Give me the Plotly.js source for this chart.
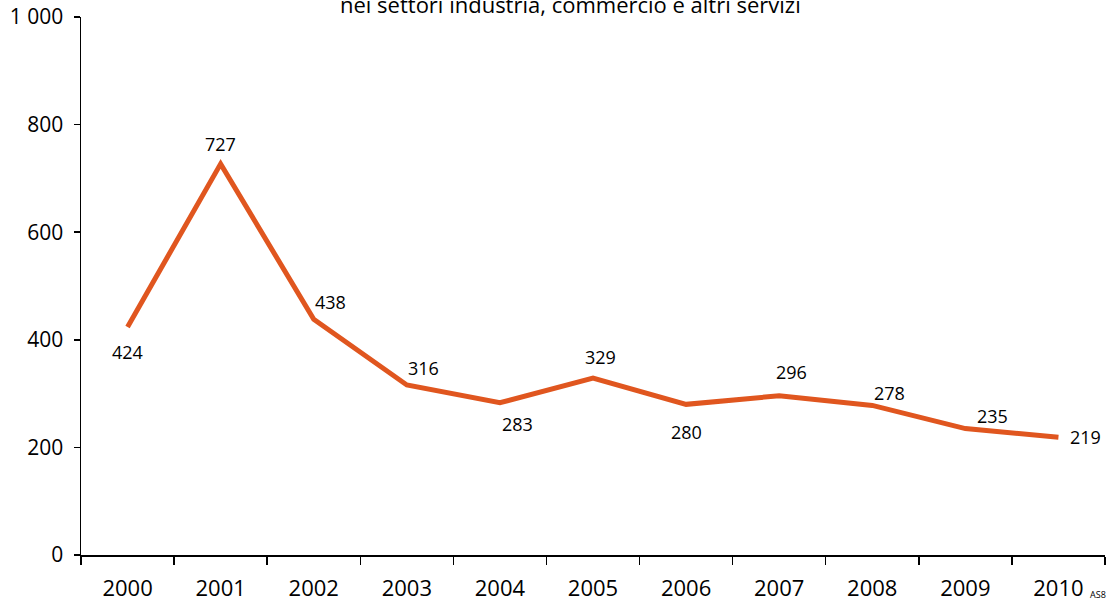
<!DOCTYPE html>
<html>
<head>
<meta charset="utf-8">
<script src="https://cdn.plot.ly/plotly-3.0.1.min.js"></script>
<style>html,body{margin:0;padding:0;background:#fff;}#chart{width:1120px;height:604px;}</style>
</head>
<body>
<div id="chart"></div>
<script>
const years = ['2000','2001','2002','2003','2004','2005','2006','2007','2008','2009','2010'];
const values = [424, 727, 438, 316, 283, 329, 280, 296, 278, 235, 219];
// label offsets from each point (pixels), a style choice
const labelDx = [0, 0, 17, 17, 18, 7, 0, 12, 17, 27, 27];
const labelDy = [-25, 20, 17, 17, -21, 21, -28, 24, 12, 13, 0];
const yTickVals = [0, 200, 400, 600, 800, 1000];
const yTickText = ['0', '200', '400', '600', '800', '1 000'];
const titleText = 'nei settori industria, commercio e altri servizi';
const sourceText = 'AS8';

const font = '"Open Sans", "DejaVu Sans", sans-serif';

// category axis: annotation x uses the category's serial index
const labelAnnotations = years.map((yr, i) => ({
  x: i, y: values[i], xref: 'x', yref: 'y',
  text: String(values[i]), showarrow: false,
  xanchor: 'center', yanchor: 'middle',
  xshift: labelDx[i], yshift: labelDy[i],
  font: {family: font, size: 18, color: '#000'}
}));

Plotly.newPlot('chart', [{
  type: 'scatter',
  mode: 'lines',
  x: years,
  y: values,
  line: {color: '#E0561F', width: 5},
  cliponaxis: false,
  hoverinfo: 'skip'
}], {
  width: 1120, height: 604,
  margin: {l: 81, r: 15, t: 17, b: 49},
  paper_bgcolor: '#fff', plot_bgcolor: '#fff',
  showlegend: false,
  font: {family: font, color: '#000'},
  xaxis: {
    type: 'category',
    range: [-0.5, 10.5],
    tickson: 'boundaries',
    ticks: 'outside', ticklen: 8, tickwidth: 1.5, tickcolor: '#000',
    ticklabelstandoff: 13,
    showline: true, linecolor: '#000', linewidth: 1.5,
    showgrid: false, zeroline: false,
    tickfont: {family: font, size: 22, color: '#000'},
    fixedrange: true
  },
  yaxis: {
    range: [0, 1000],
    tickvals: yTickVals, ticktext: yTickText,
    ticks: 'outside', ticklen: 6, tickwidth: 1.5, tickcolor: '#000',
    ticklabelstandoff: 6,
    showline: true, linecolor: '#000', linewidth: 1.5,
    showgrid: false, zeroline: false,
    tickfont: {family: font, size: 21, color: '#000'},
    fixedrange: true
  },
  annotations: [
    {text: titleText, xref: 'paper', yref: 'paper', x: 0.4785, y: 1, xanchor: 'center', yanchor: 'middle', yshift: 13, showarrow: false, font: {family: font, size: 22, color: '#000'}},
    {text: sourceText, xref: 'paper', yref: 'paper', x: 1, y: 0, xanchor: 'left', yanchor: 'top', xshift: -17, yshift: -31, showarrow: false, font: {family: font, size: 9, color: '#000'}}
  ].concat(labelAnnotations)
}, {displayModeBar: false, staticPlot: true});
</script>
</body>
</html>
